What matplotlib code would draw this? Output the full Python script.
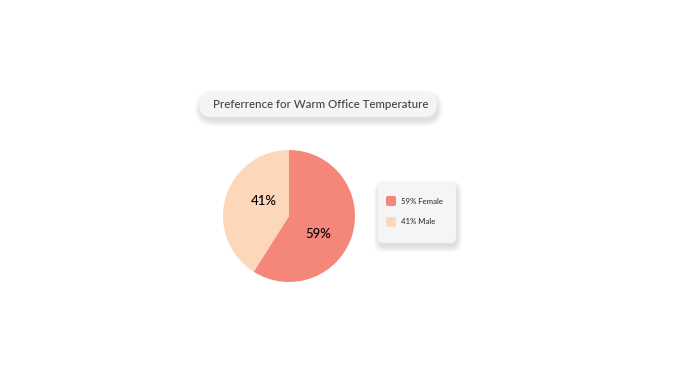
import matplotlib
matplotlib.use("Agg")
from matplotlib import pyplot as plt
from matplotlib.patches import FancyBboxPatch

labels = ["Female", "Male"]
values = [59, 41]
colors = ["#f4877a", "#fcd7ba"]
title = "Preferrence for Warm Office Temperature"

W, H = 681, 382
plt.rcParams['font.family'] = ['Lato', 'DejaVu Sans']

fig = plt.figure(figsize=(W / 100, H / 100), dpi=100)
fig.patch.set_facecolor("white")

# background axes in pixel coords (y down)
bg = fig.add_axes([0, 0, 1, 1])
bg.set_xlim(0, W)
bg.set_ylim(H, 0)
bg.axis("off")


def card(x, y, w, h, r):
    # soft blurred shadow, built from growing translucent boxes
    for i in range(8, 0, -1):
        g = i * 0.8
        s = FancyBboxPatch((x - g + 2, y - g + 6), w + 2 * g - 2, h + 2 * g - 3,
                           boxstyle="round,pad=0,rounding_size=%g" % (r + g),
                           fc="black", ec="none", alpha=0.014, lw=0)
        bg.add_patch(s)
    bg.add_patch(FancyBboxPatch((x, y), w, h,
                                boxstyle="round,pad=0,rounding_size=%g" % r,
                                fc="#f5f5f5", ec="none"))


card(199, 91, 238, 26, 13)
bg.text(321, 104, title, ha="center", va="center", fontsize=8.3,
        color="#444444", fontweight="medium")

card(378, 181, 78, 62, 5)
for i, (lab, v) in enumerate(zip(labels, values)):
    yy = 201 + i * 21
    bg.add_patch(FancyBboxPatch((386, yy - 5), 10, 10,
                                boxstyle="round,pad=0,rounding_size=2",
                                fc=colors[i], ec="none"))
    bg.text(401, yy, "%d%% %s" % (v, lab), ha="left", va="center",
            fontsize=5.6, color="#333333", fontweight="medium")

# pie
cx, cy, r = 289, 216, 66
ax = fig.add_axes([(cx - r) / W, (H - cy - r) / H, 2 * r / W, 2 * r / H])
wedges, texts, autotexts = ax.pie(values, colors=colors, startangle=90,
                                  counterclock=False,
                                  autopct=lambda p: "%d%%" % round(p),
                                  pctdistance=0.5,
                                  textprops=dict(fontsize=9.5, color="black",
                                                 fontweight="medium"))
autotexts[0].set_position((0.44, -0.27))
autotexts[1].set_position((-0.38, 0.23))
ax.set_xlim(-1, 1)
ax.set_ylim(-1, 1)
ax.axis("off")

fig.savefig("out.png", dpi=100)
